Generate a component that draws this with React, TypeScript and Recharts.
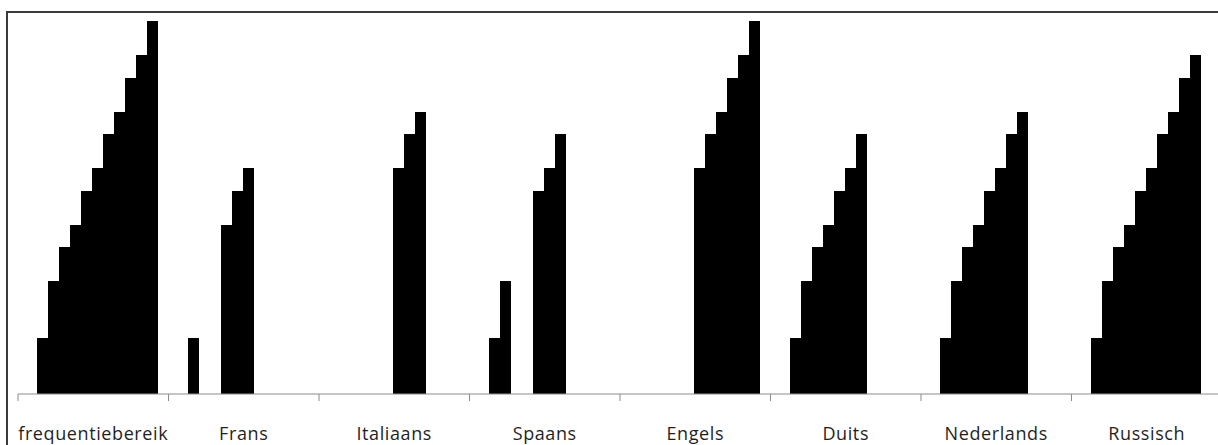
import React from 'react';
import { BarChart, Bar, XAxis, YAxis } from 'recharts';

// categories on the x axis
const categories = [
  'frequentiebereik',
  'Frans',
  'Italiaans',
  'Spaans',
  'Engels',
  'Duits',
  'Nederlands',
  'Russisch',
];

// 12 series per category (slot 0 is always empty)
const frequentiebereik = [null, 1.0, 2.0, 2.6, 3.0, 3.6, 4.0, 4.6, 5.0, 5.6, 6.0, 6.6];
const frans = [null, 1.0, null, null, 3.0, 3.6, 4.0, null, null, null, null, null];
const italiaans = [null, null, null, null, null, null, 4.0, 4.6, 5.0, null, null, null];
const spaans = [null, 1.0, 2.0, null, null, 3.6, 4.0, 4.6, null, null, null, null];
const engels = [null, null, null, null, null, null, 4.0, 4.6, 5.0, 5.6, 6.0, 6.6];
const duits = [null, 1.0, 2.0, 2.6, 3.0, 3.6, 4.0, 4.6, null, null, null, null];
const nederlands = [null, 1.0, 2.0, 2.6, 3.0, 3.6, 4.0, 4.6, 5.0, null, null, null];
const russisch = [null, 1.0, 2.0, 2.6, 3.0, 3.6, 4.0, 4.6, 5.0, 5.6, 6.0, null];

const rows = [frequentiebereik, frans, italiaans, spaans, engels, duits, nederlands, russisch];
const seriesKeys = frequentiebereik.map((_, i) => `s${i}`);

const data = categories.map((name, c) => {
  const row: Record<string, any> = { name };
  seriesKeys.forEach((k, i) => {
    row[k] = rows[c][i];
  });
  return row;
});

const AXIS_COLOR = '#8c8c8c';
const FRAME_COLOR = '#3a3a3a';

// Excel-style tick: line on the category boundary, label in the middle
const CategoryTick = (props: any) => {
  const { x, y, payload } = props;
  const half = payload && payload.offset ? payload.offset : 75.25;
  return (
    <g>
      <line x1={x - half} y1={y - 6} x2={x - half} y2={y + 1} stroke={AXIS_COLOR} strokeWidth={1} />
      <text
        x={x}
        y={y + 40}
        textAnchor="middle"
        fontFamily="'Open Sans', sans-serif"
        fontSize={18}
        letterSpacing={0.6}
        fill="#1f1f1f"
      >
        {payload.value}
      </text>
    </g>
  );
};

const App: React.FC = () => {
  return (
    <div
      style={{
        position: 'fixed',
        left: 0,
        top: 0,
        width: 1218,
        height: 445,
        overflow: 'hidden',
        background: '#fff',
      }}
    >
      <style>{'.recharts-bar-rectangle path { shape-rendering: crispEdges; }'}</style>
      {/* chart area border: only the left and top edges fall inside the picture */}
      <div
        style={{
          position: 'absolute',
          left: 6,
          top: 11,
          width: 1212,
          height: 2,
          background: FRAME_COLOR,
        }}
      />
      <div
        style={{
          position: 'absolute',
          left: 6,
          top: 11,
          width: 2,
          height: 434,
          background: FRAME_COLOR,
        }}
      />
      <div style={{ position: 'absolute', left: 0, top: 0, width: 1240, height: 445 }}>
        <BarChart
          width={1240}
          height={445}
          data={data}
          margin={{ top: 10, right: 18, left: 18, bottom: 0 }}
          barCategoryGap="5.6%"
          barGap={0}
          accessibilityLayer={false}
        >
          <XAxis
            dataKey="name"
            height={51}
            axisLine={{ stroke: AXIS_COLOR, strokeWidth: 1 }}
            tickLine={false}
            tickSize={6}
            tickMargin={0}
            interval={0}
            tick={<CategoryTick />}
          />
          <YAxis hide domain={[0, 6.8]} />
          {seriesKeys.map((k) => (
            <Bar key={k} dataKey={k} fill="#000000" isAnimationActive={false} />
          ))}
        </BarChart>
      </div>
    </div>
  );
};

export default App;
